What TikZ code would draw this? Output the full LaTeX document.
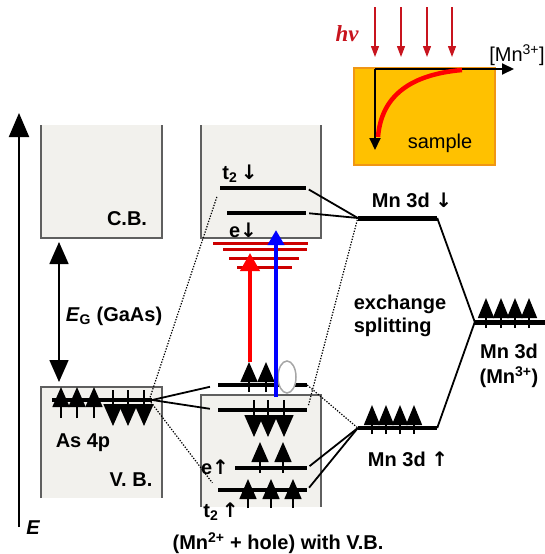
\documentclass[tikz,border=0pt]{standalone}
\usepackage{fontspec}
\setmainfont{Liberation Sans}
\newfontfamily\hnufont{Liberation Serif}
\newfontfamily\arrfont{DejaVu Sans}
\usetikzlibrary{arrows.meta, shapes.geometric}
\definecolor{bandgrey}{RGB}{242,241,237}
\definecolor{bandedge}{RGB}{95,95,95}
\definecolor{photonred}{RGB}{200,20,30}
\definecolor{samplefill}{RGB}{255,193,0}
\definecolor{sampleedge}{RGB}{240,150,20}
\definecolor{excitered}{RGB}{205,0,0}
\newcommand{\dn}{{\arrfont\bfseries ↓}}
\newcommand{\up}{{\arrfont\bfseries ↑}}

\begin{document}
\begin{tikzpicture}[x=1pt, y=-1pt,
  lab/.style={font=\fontsize{20}{23}\selectfont\bfseries, inner sep=0pt},
  plain/.style={font=\fontsize{20}{23}\selectfont, inner sep=0pt},
  lvl/.style={rectangle, fill=black, inner sep=0pt, minimum height=3.5pt},
  band/.style={fill=bandgrey},
  bandline/.style={draw=bandedge, line width=1.2pt},
  conn/.style={line width=1.8pt},
  dots/.style={line width=1.2pt, dash pattern=on 1.3pt off 1.5pt},
  spinup/.style={line width=1.6pt, -{Triangle[length=20pt, width=17pt]}},
  spindn/.style={line width=1.6pt, -{Triangle[length=22pt, width=19pt]}},
  spinsmall/.style={line width=1.5pt, -{Triangle[length=20pt, width=16pt]}},
  axis/.style={line width=2pt, -{Triangle[length=12pt, width=11pt]}}
]
  \useasboundingbox (0,0) rectangle (545,554);

  \fill[band] (41,125) rectangle (162,238);
  \draw[bandline] (41,125) -- (41,238) -- (162,238) -- (162,125);
  \fill[band] (41,387) rectangle (162,498);
  \draw[bandline] (41,498) -- (41,387) -- (162,387) -- (162,498);
  \fill[band] (201,125) rectangle (321,238);
  \draw[bandline] (201,125) -- (201,238) -- (321,238) -- (321,125);
  \fill[band] (201,395) rectangle (321,507);
  \draw[bandline] (201,507) -- (201,395) -- (321,395) -- (321,507);

  \draw[line width=2pt, -{Triangle[length=24pt, width=20pt]}] (19,527) -- (19,113);
  \draw[line width=1.6pt, {Triangle[length=22pt, width=19pt]}-{Triangle[length=22pt, width=19pt]}] (59,382) -- (59,242);

  \node[lvl, minimum width=100pt] (asp) at (102,400) {};
  \node[lvl, minimum width=86pt, minimum height=4pt] (t2dn) at (263,188) {};
  \node[lvl, minimum width=79pt] (edn) at (266.5,213) {};
  \node[lvl, minimum width=89pt, minimum height=4pt] (holelvl) at (262.5,385) {};
  \node[lvl, minimum width=89pt] (dnlvl) at (262.5,410) {};
  \node[lvl, minimum width=72pt] (eup) at (271,468) {};
  \node[lvl, minimum width=89pt] (t2up) at (262.5,490) {};
  \node[lvl, minimum width=79pt, minimum height=5pt] (mndn) at (397.5,218) {};
  \node[lvl, minimum width=79pt] (mnup) at (397.5,428) {};
  \node[lvl, minimum width=70pt, minimum height=5pt] (mnthree) at (510,322) {};

  \draw[conn, shorten >=8pt] (asp.east) -- (holelvl.west);
  \draw[conn, shorten >=8pt] (asp.east) -- (dnlvl.west);
  \draw[dots, shorten >=9pt] ([xshift=-3pt]asp.east) -- (t2dn.west);
  \draw[dots, shorten >=9pt] ([xshift=-3pt]asp.east) -- (t2up.west);
  \draw[conn, shorten <=3pt] (t2dn.east) -- (mndn.west);
  \draw[conn, shorten <=3pt] (edn.east) -- (mndn.west);
  \draw[dots, shorten <=5pt] (dnlvl.east) -- (mndn.west);
  \draw[dots] (holelvl.east) -- (mnup.west);
  \draw[conn, shorten <=3pt] (eup.east) -- (mnup.west);
  \draw[conn, shorten <=3pt] (t2up.east) -- (mnup.west);
  \draw[conn] (mndn.east) -- (mnthree.west);
  \draw[conn] (mnup.east) -- (mnthree.west);

  \foreach \x in {61,77,94} \draw[spinup] (\x,418) -- (\x,387);
  \foreach \x in {113,128,144} \draw[spindn] (\x,390) -- (\x,426);
  \foreach \x in {249,266} \draw[spinup] (\x,392) -- (\x,362);
  \foreach \x in {254,268,284} \draw[spindn] (\x,400) -- (\x,437);
  \foreach \x in {260,283} \draw[spinup] (\x,473) -- (\x,442);
  \foreach \x in {248,271,293} \draw[spinup] (\x,508) -- (\x,479);
  \foreach \x in {372,386,400,414} \draw[spinsmall] (\x,434) -- (\x,405);
  \foreach \x in {486,501,515,529} \draw[spinsmall] (\x,328) -- (\x,298);

  \foreach \y/\xa/\xb in {243/213/308, 249/223/307, 258/229/299, 267/237/292}
    \draw[excitered, line width=3pt] (\xa,\y) -- (\xb,\y);
  \draw[red, line width=4pt, -{Triangle[length=18pt, width=19pt]}] (250,362) -- (250,253);
  \node[ellipse, draw=gray!70, fill=white, line width=1.5pt, minimum width=18pt, minimum height=32pt, inner sep=0pt] (holering) at (287,377) {};
  \draw[blue, line width=4pt, -{Triangle[length=15pt, width=16pt]}] (276,397) -- (276,230);

  \node[lab] (cb) at (127,219) {C.B.};
  \node[lab] (vb) at (131,480) {V. B.};
  \node[lab] (asfour) at (83,443) {As 4p};
  \node[lab] (gap) at (114,316) {\textit{E}\textsubscript{G} (GaAs)};
  \node[lab, font=\fontsize{20}{23}\selectfont\bfseries\itshape] (elab) at (33,528) {E};
  \node[lab] (t2dnlab) at (240,174) {t\textsubscript{2}\,\dn};
  \node[lab] (ednlab) at (243,230) {e\dn};
  \node[lab] (euplab) at (215,467) {e\up};
  \node[lab] (t2uplab) at (221,512) {t\textsubscript{2}\,\up};
  \node[lab, align=left] (exch) at (400,316) {exchange\\splitting};
  \node[lab] (mndnlab) at (412,200) {Mn 3d \dn};
  \node[lab] (mnuplab) at (408,459) {Mn 3d \up};
  \node[lab, align=center, font=\fontsize{20}{25}\selectfont\bfseries] (mnthreelab) at (509,366) {Mn 3d\\(Mn\textsuperscript{3+})};
  \node[lab] (withvb) at (278,543) {(Mn\textsuperscript{2+} + hole) with V.B.};

  \draw[fill=samplefill, draw=sampleedge, line width=2pt] (354,68) rectangle (495,165);
  \draw[axis] (375,69) -- (514,69);
  \draw[axis] (375,69) -- (375,150);
  \draw[red, line width=4.5pt] (378,137) .. controls (381,100) and (405,75) .. (462,70);
  \foreach \x in {375,401,427,452}
    \draw[photonred, line width=1.3pt, -{Triangle[length=11pt, width=8pt]}] (\x,7) -- (\x,57);
  \node[font=\hnufont\fontsize{23}{26}\selectfont\bfseries\itshape, text=photonred, inner sep=0pt] (hnu) at (347,34) {hν};
  \node[plain] (conc) at (517,55) {[Mn\textsuperscript{3+}]};
  \node[plain] (smp) at (440,143) {sample};
\end{tikzpicture}
\end{document}
